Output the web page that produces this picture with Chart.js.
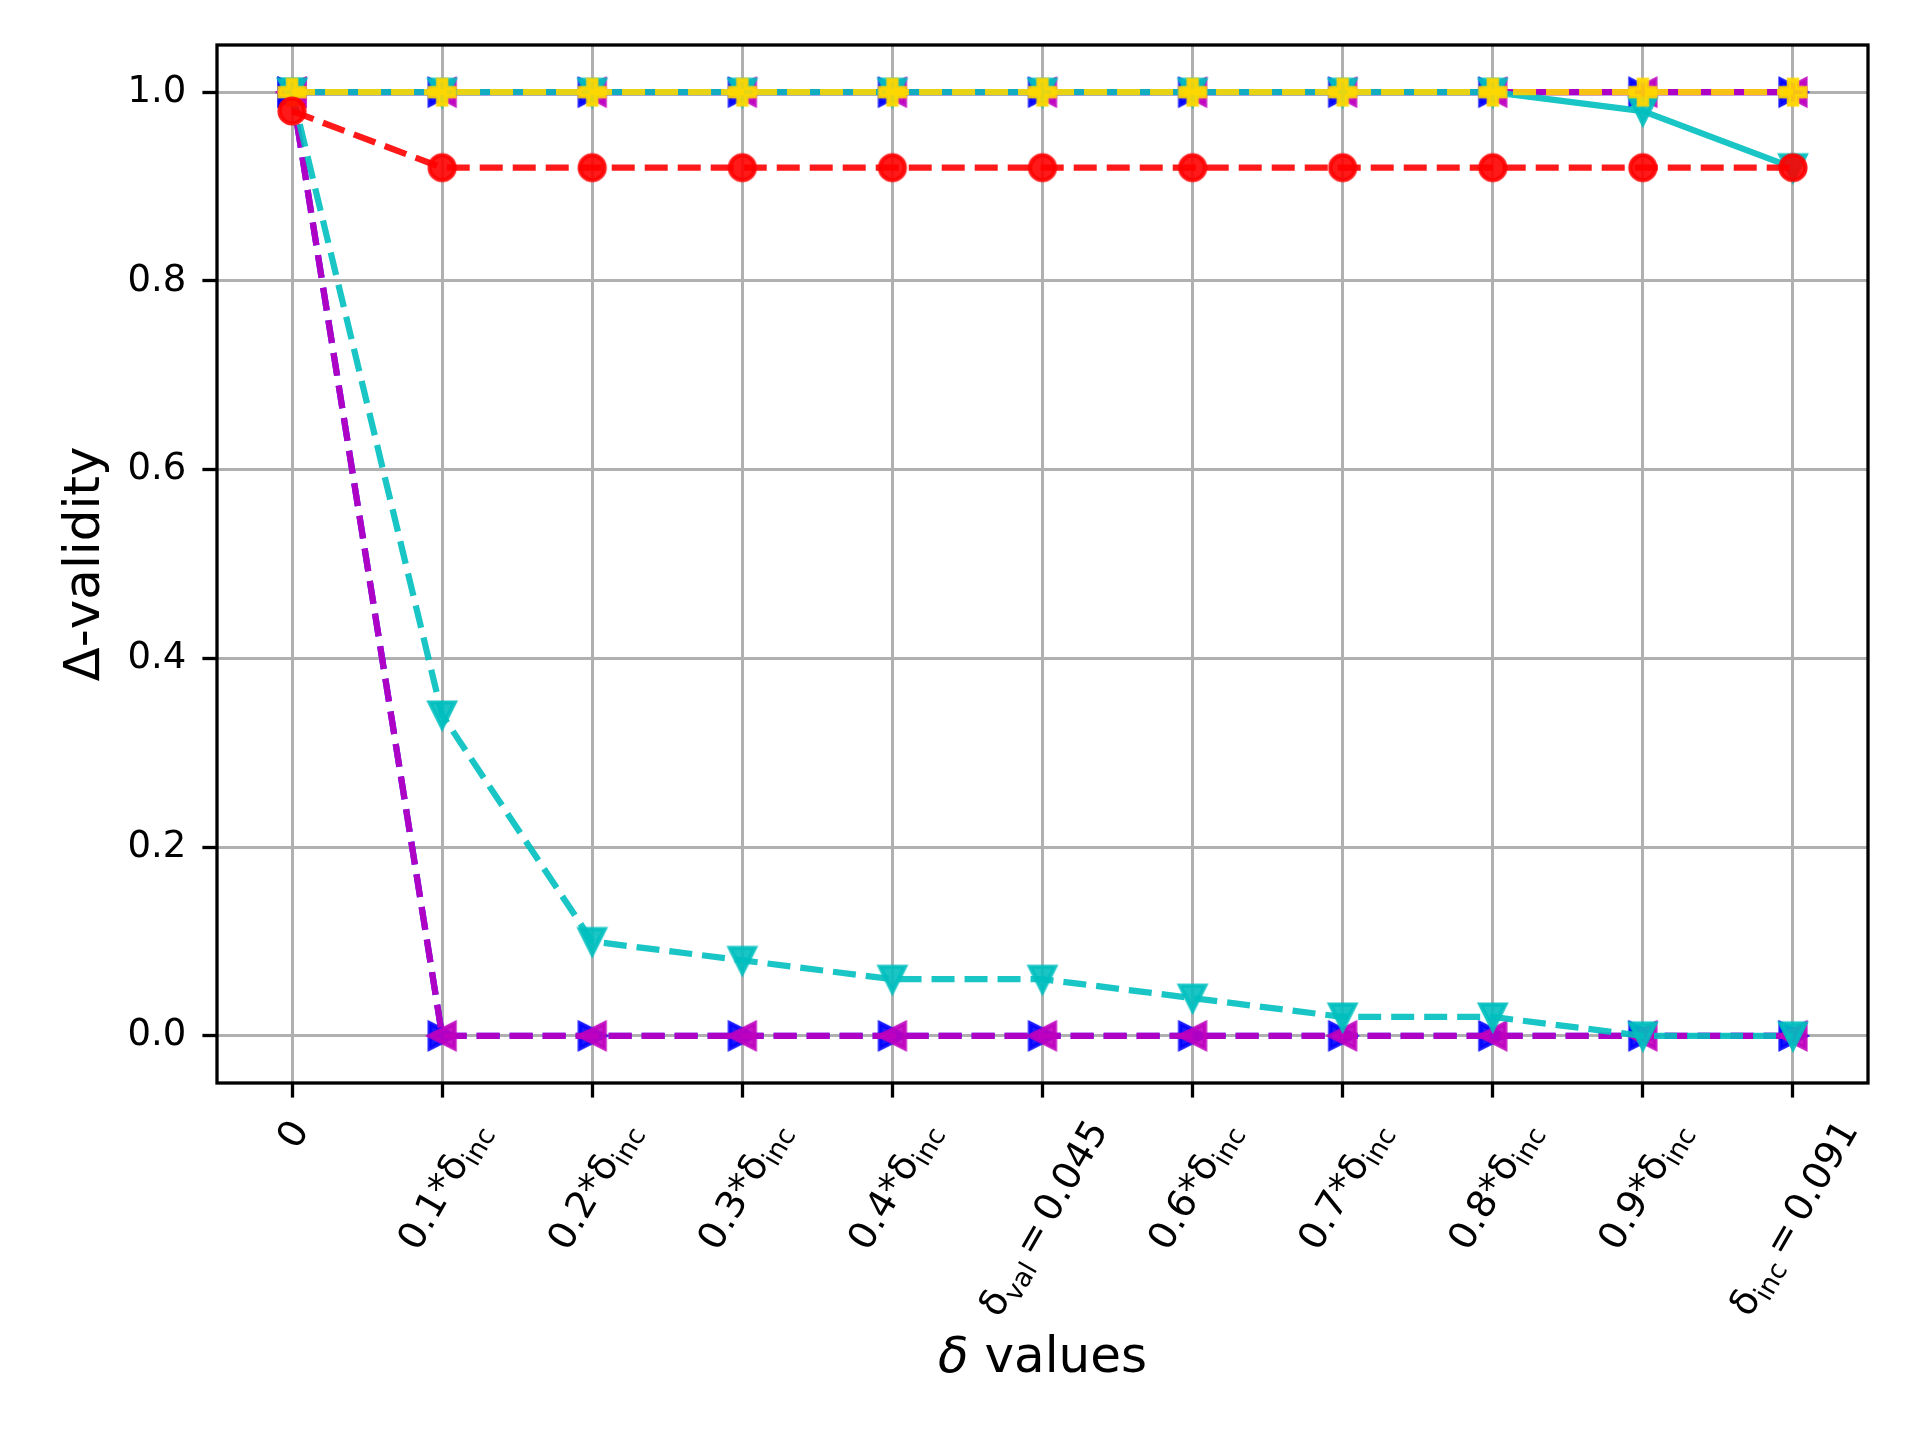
<!DOCTYPE html>
<html>
<head>
<meta charset="utf-8">
<script src="https://cdn.jsdelivr.net/npm/chart.js@4.4.0/dist/chart.umd.min.js"></script>
<style>
  html, body { margin: 0; padding: 0; background: #fff; }
</style>
</head>
<body>
<canvas id="chart" width="1920" height="1440"></canvas>
<script>
// x categories (underscore marks a subscript, thin spaces round "=")
const deltaLabels = [
  "0", "0.1*δ_inc", "0.2*δ_inc", "0.3*δ_inc", "0.4*δ_inc", "δ_val\u2009=\u20090.045",
  "0.6*δ_inc", "0.7*δ_inc", "0.8*δ_inc", "0.9*δ_inc", "δ_inc\u2009=\u20090.091"
];
const yTickValues = [0.0, 0.2, 0.4, 0.6, 0.8, 1.0];

// series, in plotting order (later ones end up on top)
const blueLow     = [1.0, 0, 0, 0, 0, 0, 0, 0, 0, 0, 0];
const magentaLow  = [1.0, 0, 0, 0, 0, 0, 0, 0, 0, 0, 0];
const cyanLow     = [1.0, 0.34, 0.10, 0.08, 0.06, 0.06, 0.04, 0.02, 0.02, 0.0, 0.0];
const blueHigh    = [1.0, 1.0, 1.0, 1.0, 1.0, 1.0, 1.0, 1.0, 1.0, 1.0, 1.0];
const magentaHigh = [1.0, 1.0, 1.0, 1.0, 1.0, 1.0, 1.0, 1.0, 1.0, 1.0, 1.0];
const cyanHigh    = [1.0, 1.0, 1.0, 1.0, 1.0, 1.0, 1.0, 1.0, 1.0, 0.98, 0.92];
const goldHigh    = [1.0, 1.0, 1.0, 1.0, 1.0, 1.0, 1.0, 1.0, 1.0, 1.0, 1.0];
const redLow      = [0.98, 0.92, 0.92, 0.92, 0.92, 0.92, 0.92, 0.92, 0.92, 0.92, 0.92];

const FONT = "'DejaVu Sans', 'Liberation Sans', sans-serif";
const ALPHA = 0.9;
const LW = 6.25;             // 1.5pt at 300 dpi
const DASHED = [23, 10];

function rgba(c) { return `rgba(${c[0]},${c[1]},${c[2]},${ALPHA})`; }

// matplotlib-like marker drawn into a small canvas
function makeMarker(shape, c) {
  const size = 44, m = size / 2, s = 12.5, a = s / 3;
  const cv = document.createElement("canvas");
  cv.width = size; cv.height = size;
  const g = cv.getContext("2d");
  g.beginPath();
  if (shape === "o") {
    g.arc(m, m, s, 0, Math.PI * 2);
  } else {
    let pts;
    if (shape === "v") pts = [[0, s], [-s, -s], [s, -s]];
    if (shape === ">") pts = [[s, 0], [-s, -s], [-s, s]];
    if (shape === "<") pts = [[-s, 0], [s, -s], [s, s]];
    if (shape === "P") pts = [[-a, -s], [-a, -a], [-s, -a], [-s, a], [-a, a], [-a, s],
                              [a, s], [a, a], [s, a], [s, -a], [a, -a], [a, -s]];
    pts.forEach((p, i) => i ? g.lineTo(m + p[0], m + p[1]) : g.moveTo(m + p[0], m + p[1]));
    g.closePath();
  }
  g.fillStyle = rgba(c);
  g.fill();
  g.lineJoin = "miter";
  g.lineWidth = 4.2;
  g.strokeStyle = rgba(c);
  g.stroke();
  return cv;
}

const RED = [255, 0, 0], CYAN = [0, 191, 191], MAG = [191, 0, 191], BLUE = [0, 0, 255], GOLD = [255, 215, 0];

const series = [
  { data: blueLow,     color: BLUE, marker: ">", dash: DASHED },
  { data: magentaLow,  color: MAG,  marker: "<", dash: DASHED },
  { data: cyanLow,     color: CYAN, marker: "v", dash: DASHED },
  { data: blueHigh,    color: BLUE, marker: ">", dash: [] },
  { data: magentaHigh, color: MAG,  marker: "<", dash: [] },
  { data: cyanHigh,    color: CYAN, marker: "v", dash: [] },
  { data: goldHigh,    color: GOLD, marker: "P", dash: DASHED },
  { data: redLow,      color: RED,  marker: "o", dash: DASHED }
];

const datasets = series.map((s, i) => ({
  data: s.data,
  borderColor: rgba(s.color),
  backgroundColor: rgba(s.color),
  borderWidth: LW,
  borderDash: s.dash,
  borderJoinStyle: "round",
  borderCapStyle: "butt",
  tension: 0,
  fill: false,
  pointStyle: makeMarker(s.marker, s.color),
  pointRadius: 14,
  pointHoverRadius: 14,
  order: series.length - i
}));

function splitLabel(lab) {
  const parts = [];
  const re = /_(\w+)/g;
  let last = 0, m;
  while ((m = re.exec(lab)) !== null) {
    if (m.index > last) parts.push({ t: lab.slice(last, m.index), sub: false });
    parts.push({ t: m[1], sub: true });
    last = re.lastIndex;
  }
  if (last < lab.length) parts.push({ t: lab.slice(last), sub: false });
  return parts;
}

const axisText = {
  id: "axisText",
  afterDraw(chart) {
    const ctx = chart.ctx, area = chart.chartArea, xs = chart.scales.x;
    ctx.save();
    ctx.fillStyle = "#000";
    ctx.textBaseline = "alphabetic";
    ctx.textAlign = "left";

    // frame
    ctx.strokeStyle = "#000";
    ctx.lineWidth = 3.3;
    ctx.strokeRect(area.left, area.top, area.right - area.left, area.bottom - area.top);

    // rotated x tick labels, centred on the tick like matplotlib ha='center'
    const fs = 38, th = 60 * Math.PI / 180;
    const top = area.bottom + 14.6 + 14.6;
    deltaLabels.forEach((lab, i) => {
      const parts = splitLabel(lab);
      let w = 0;
      parts.forEach(p => {
        p.font = `${p.sub ? fs * 0.7 : fs}px ${FONT}`;
        ctx.font = p.font;
        p.w = ctx.measureText(p.t).width;
        w += p.w;
      });
      const h = fs * 1.164;
      const H = w * Math.sin(th) + h * Math.cos(th);
      ctx.save();
      ctx.translate(xs.getPixelForTick(i), top + H / 2);
      ctx.rotate(-th);
      let x = -w / 2;
      const base = fs * 0.346;
      parts.forEach(p => {
        ctx.font = p.font;
        ctx.fillText(p.t, x, base + (p.sub ? fs * 0.22 : 0));
        x += p.w;
      });
      ctx.restore();
    });

    // x title
    const tf = 50;
    ctx.font = `italic ${tf}px ${FONT}`;
    const w1 = ctx.measureText("δ").width;
    ctx.font = `${tf}px ${FONT}`;
    const w2 = ctx.measureText(" values").width;
    let tx = (area.left + area.right) / 2 - (w1 + w2) / 2;
    ctx.font = `italic ${tf}px ${FONT}`;
    ctx.fillText("δ", tx, 1372);
    ctx.font = `${tf}px ${FONT}`;
    ctx.fillText(" values", tx + w1, 1372);

    // y title
    ctx.save();
    ctx.translate(99, (area.top + area.bottom) / 2);
    ctx.rotate(-Math.PI / 2);
    ctx.textAlign = "center";
    ctx.font = `${tf}px ${FONT}`;
    ctx.fillText("Δ-validity", 0, 0);
    ctx.restore();

    ctx.restore();
  }
};

new Chart(document.getElementById("chart"), {
  type: "line",
  data: { labels: deltaLabels, datasets: datasets },
  plugins: [axisText],
  options: {
    responsive: false,
    devicePixelRatio: 1,
    animation: false,
    layout: { padding: { top: 45, right: 52, bottom: 0, left: 0 } },
    plugins: { legend: { display: false }, tooltip: { enabled: false } },
    scales: {
      x: {
        type: "category",
        offset: true,
        afterFit: (scale) => { scale.height = 357; },
        border: { display: false },
        grid: { color: "#b0b0b0", lineWidth: 3, offset: false,
                tickColor: "#000", tickWidth: 3.3, tickLength: 14.6 },
        ticks: { autoSkip: false, maxRotation: 0, callback: () => "" }
      },
      y: {
        type: "linear",
        min: -0.05,
        max: 1.05,
        afterFit: (scale) => { scale.width = 217; },
        afterBuildTicks: (scale) => { scale.ticks = yTickValues.map(v => ({ value: v })); },
        border: { display: false },
        grid: { color: "#b0b0b0", lineWidth: 3,
                tickColor: "#000", tickWidth: 3.3, tickLength: 14.6 },
        ticks: {
          color: "#000",
          padding: 16,
          font: { family: FONT, size: 37 },
          callback: (v) => Number(v).toFixed(1)
        }
      }
    }
  }
});
</script>
</body>
</html>
